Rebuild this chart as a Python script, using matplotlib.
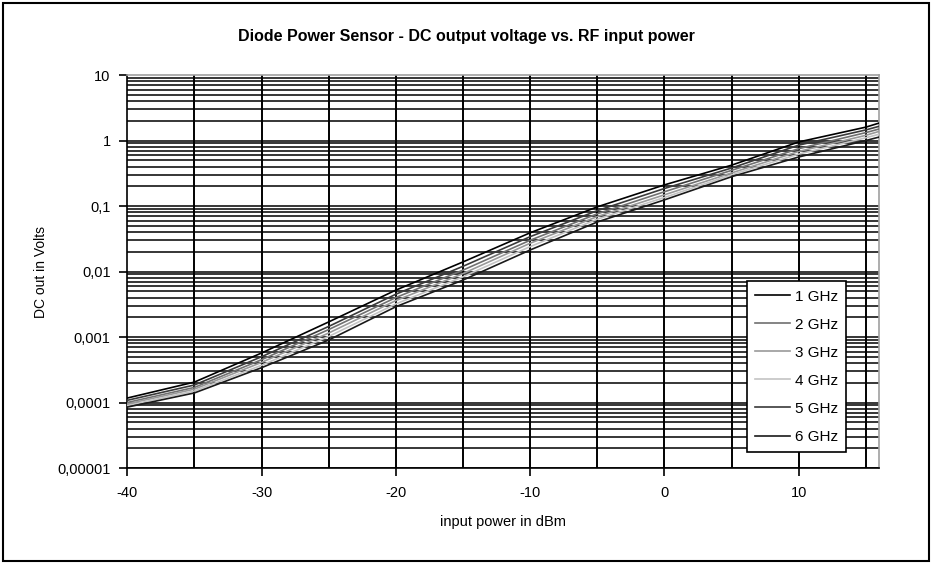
import numpy as np
import matplotlib
matplotlib.use("Agg")
from matplotlib import pyplot as plt
from matplotlib.ticker import LogLocator, FixedLocator, NullFormatter
from matplotlib.patches import Rectangle

plt.rcParams['font.family'] = ['Liberation Sans', 'DejaVu Sans']

# input power in dBm
p_in = [-40, -35, -30, -25, -20, -15, -10, -5, 0, 5, 10, 15, 16]

# DC output in volts
v_1ghz = [1.17e-4, 2.05e-4, 5.7e-4, 1.7e-3, 5.2e-3, 0.014, 0.039, 0.097, 0.21, 0.42, 0.95, 1.6, 1.85]
v_2ghz = [1.0e-4, 1.7e-4, 4.5e-4, 1.3e-3, 4.0e-3, 0.0105, 0.030, 0.076, 0.165, 0.35, 0.75, 1.32, 1.5]
v_3ghz = [0.95e-4, 1.6e-4, 4.1e-4, 1.15e-3, 3.6e-3, 0.0093, 0.027, 0.069, 0.148, 0.32, 0.68, 1.2, 1.38]
v_4ghz = [0.9e-4, 1.5e-4, 3.7e-4, 1.02e-3, 3.2e-3, 0.0083, 0.024, 0.063, 0.135, 0.30, 0.62, 1.1, 1.25]
v_5ghz = [1.08e-4, 1.85e-4, 5.0e-4, 1.45e-3, 4.5e-3, 0.012, 0.034, 0.085, 0.185, 0.38, 0.85, 1.45, 1.65]
v_6ghz = [0.85e-4, 1.4e-4, 3.4e-4, 0.9e-3, 2.9e-3, 0.0074, 0.0213, 0.057, 0.124, 0.28, 0.56, 1.0, 1.13]

series = [("1 GHz", v_1ghz, "#000000"),
          ("2 GHz", v_2ghz, "#707070"),
          ("3 GHz", v_3ghz, "#999999"),
          ("4 GHz", v_4ghz, "#c4c4c4"),
          ("5 GHz", v_5ghz, "#3a3a3a"),
          ("6 GHz", v_6ghz, "#1a1a1a")]

x_ticks = [-40, -30, -20, -10, 0, 10]
y_ticks = [1e-5, 1e-4, 1e-3, 1e-2, 1e-1, 1, 10]
y_labels = ['0,00001', '0,0001', '0,001', '0,01', '0,1', '1', '10']

fig = plt.figure(figsize=(9.33, 5.64), dpi=100)
ax = fig.add_axes([127.3/933, 1-468/564, (879.3-127.3)/933, (468-75)/564])

ax.set_yscale('log')
ax.set_xlim(-40, 16)
ax.set_ylim(1e-5, 10)

# grid: vertical every 5 dBm, horizontal on every log step
for xv in np.arange(-35, 16, 5):
    ax.axvline(xv, color='black', lw=1.4, zorder=1)
for dec in range(-5, 1):
    for m in range(1, 10):
        ax.axhline(m * 10.0**dec, color='black', lw=1.1, zorder=1)

for name, vals, col in series:
    ax.plot(p_in, vals, color=col, lw=1.2, label=name, zorder=3)

ax.xaxis.set_major_locator(FixedLocator(x_ticks))
ax.set_xticklabels([str(t) for t in x_ticks])
ax.yaxis.set_major_locator(FixedLocator(y_ticks))
ax.set_yticklabels(y_labels)
ax.yaxis.set_minor_locator(LogLocator(base=10, subs=[]))
ax.yaxis.set_minor_formatter(NullFormatter())
ax.tick_params(axis='both', which='major', direction='out', length=6, width=1.2,
               labelsize=10.5, color='black', pad=6)
ax.tick_params(axis='x', which='major', pad=7)
ax.tick_params(axis='y', which='minor', length=0)

for side in ['top', 'right']:
    ax.spines[side].set_color('#a0a0a0')
    ax.spines[side].set_linewidth(1.2)
for side in ['left', 'bottom']:
    ax.spines[side].set_color('black')
    ax.spines[side].set_linewidth(1.2)

ax.set_xlabel('input power in dBm', fontsize=10.5, labelpad=11)
ax.set_ylabel('DC out in Volts', fontsize=10, labelpad=7)

fig.text(0.5, 1-36/564, 'Diode Power Sensor - DC output voltage vs. RF input power',
         ha='center', va='center', fontsize=11.5, fontweight='bold')

leg = ax.legend(loc='lower right', bbox_to_anchor=(0.956, 0.04), fontsize=11,
                fancybox=False, framealpha=1, edgecolor='black',
                handlelength=2.3, handletextpad=0.3, labelspacing=0.92,
                borderpad=0.55, borderaxespad=0.0)
leg.get_frame().set_linewidth(1.2)
leg.set_zorder(5)

fig.patches.append(Rectangle((3/933, 1-561/564), 926/933, 558/564,
                             transform=fig.transFigure, fill=False,
                             edgecolor='black', lw=1.5))

fig.savefig('out.png', dpi=100)
